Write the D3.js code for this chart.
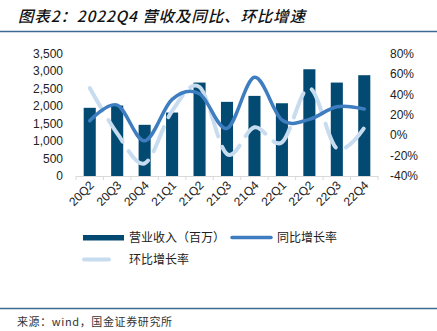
<!DOCTYPE html>
<html><head><meta charset="utf-8">
<script src="https://cdn.jsdelivr.net/npm/d3@7"></script>
<style>body{margin:0;background:#fff}svg{display:block}</style>
</head><body><svg id="c" width="437" height="331"></svg>
<script>
const categories = ["20Q2","20Q3","20Q4","21Q1","21Q2","21Q3","21Q4","22Q1","22Q2","22Q3","22Q4"];
const revenue = [1945, 2010, 1460, 1810, 2665, 2115, 2285, 2075, 3045, 2665, 2875];
const yoy = [14, 29.4, -5.5, 35, 40.5, 6.6, 56.5, 14.8, 15.4, 27.8, 25.5];
const qoq = [46, 1.7, -27.6, 23.6, 47, -18.5, 7.6, -7, 46, -13, 7.2];
const leftTicks = [0,500,1000,1500,2000,2500,3000,3500];
const rightTicks = [-40,-20,0,20,40,60,80];
const title = "图表2：2022Q4 营收及同比、环比增速";
const source = "来源：wind，国金证券研究所";
const legendNames = ["营业收入（百万）","同比增长率","环比增长率"];

const C_BAR="#034A72", C_YOY="#3F7DC1", C_QOQ="#C8DCF0", C_RULE="#3C6A92";
const svg = d3.select("#c");
const font = "'Liberation Sans', Arial, sans-serif";
const cjk = "'Noto Sans CJK SC', sans-serif";

svg.append("text").attr("x",18).attr("y",22).text(title)
  .attr("font-family",cjk).attr("font-size",15.5).attr("font-style","italic").attr("font-weight",500)
  .attr("textLength",287).attr("lengthAdjust","spacing").attr("fill","#111");
svg.append("line").attr("x1",0).attr("x2",437).attr("y1",31.5).attr("y2",31.5).attr("stroke",C_RULE).attr("stroke-width",1.5);

const x = d3.scaleBand().domain(categories).range([76,378]).paddingInner(0.56).paddingOuter(0.28);
const xc = d=>x(d)+x.bandwidth()/2;
const yL = d3.scaleLinear().domain([0,3500]).range([176,53.3]);
const yR = d3.scaleLinear().domain([-40,80]).range([176,53.3]);

// axis line and ticks
const xb = d3.scaleBand().domain(categories).range([76,378]);
const gx = svg.append("g").attr("transform","translate(0,176)")
  .call(d3.axisBottom(xb).tickSize(0).tickFormat(""));
gx.select(".domain").attr("stroke","#D9D9D9").attr("stroke-width",1.2);
gx.selectAll(".b").data(d3.range(categories.length+1)).enter().append("line")
  .attr("x1",i=>76+i*xb.step()).attr("x2",i=>76+i*xb.step()).attr("y1",0).attr("y2",4)
  .attr("stroke","#D9D9D9");
categories.forEach(c=>{
  svg.append("text").attr("text-anchor","end").attr("font-family",font).attr("font-size",12).attr("fill","#222")
    .attr("transform",`translate(${xc(c)+5},${186}) rotate(-45)`).text(c);
});

const gl = svg.append("g").attr("transform","translate(63,0)")
  .call(d3.axisLeft(yL).tickValues(leftTicks).tickSize(0).tickPadding(0).tickFormat(d3.format(",")));
gl.select(".domain").remove();
gl.selectAll("text").attr("font-family",font).attr("font-size",12).attr("fill","#222");
const gr = svg.append("g").attr("transform","translate(390,0)")
  .call(d3.axisRight(yR).tickValues(rightTicks).tickSize(0).tickPadding(0).tickFormat(d=>d+"%"));
gr.select(".domain").remove();
gr.selectAll("text").attr("font-family",font).attr("font-size",12).attr("fill","#222");

svg.selectAll(".bar").data(revenue).enter().append("rect")
  .attr("x",(d,i)=>x(categories[i])).attr("width",x.bandwidth())
  .attr("y",d=>yL(d)).attr("height",d=>176-yL(d)).attr("fill",C_BAR);

const lineR = arr => d3.line().x((d,i)=>xc(categories[i])).y(d=>yR(d)).curve(d3.curveCardinal.tension(0))(arr);
svg.append("path").attr("d",lineR(qoq)).attr("fill","none").attr("stroke",C_QOQ).attr("stroke-width",4)
  .attr("stroke-dasharray","26,11").attr("stroke-linecap","round");
svg.append("path").attr("d",lineR(yoy)).attr("fill","none").attr("stroke",C_YOY).attr("stroke-width",3.5)
  .attr("stroke-linecap","round");

// legend
const lg = svg.append("g").attr("font-family",cjk).attr("font-size",12).attr("fill","#222");
lg.append("rect").attr("x",83).attr("y",235).attr("width",41).attr("height",5.5).attr("fill",C_BAR);
lg.append("text").attr("x",129).attr("y",241.5).text(legendNames[0]);
lg.append("line").attr("x1",232).attr("x2",271).attr("y1",237.5).attr("y2",237.5).attr("stroke",C_YOY).attr("stroke-width",3.5).attr("stroke-linecap","round");
lg.append("text").attr("x",277).attr("y",241.5).text(legendNames[1]);
lg.append("line").attr("x1",84).attr("x2",109).attr("y1",259.5).attr("y2",259.5).attr("stroke",C_QOQ).attr("stroke-width",4).attr("stroke-linecap","round");
lg.append("text").attr("x",129).attr("y",264).text(legendNames[2]);

svg.append("line").attr("x1",0).attr("x2",437).attr("y1",308.5).attr("y2",308.5).attr("stroke",C_RULE).attr("stroke-width",1.5);
svg.append("text").attr("x",17).attr("y",326).text(source).attr("font-family",cjk).attr("font-size",11).attr("fill","#333")
  .attr("textLength",155).attr("lengthAdjust","spacing");
</script></body></html>
